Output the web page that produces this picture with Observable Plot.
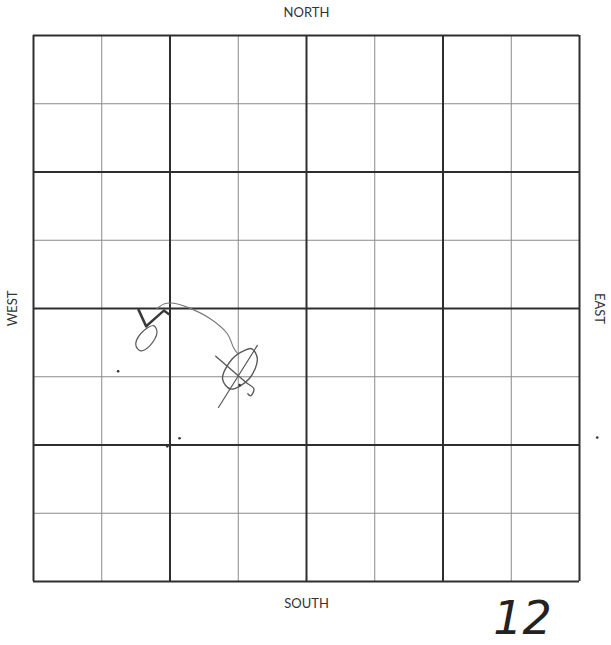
<!DOCTYPE html>
<html><head><meta charset="utf-8">
<script src="https://cdn.jsdelivr.net/npm/d3@7"></script>
<script src="https://cdn.jsdelivr.net/npm/@observablehq/plot@0.6"></script>
<style>body{margin:0;background:#fff}</style>
</head><body><div id="chart"></div>
<script>
// Grid: 8 x 8 cells, heavy lines every 2 cells
const gridLines = [0,1,2,3,4,5,6,7,8];
const heavyLines = [0,2,4,6,8];
const directionLabels = ["NORTH","SOUTH","WEST","EAST"];
const pageNumber = ["12"];

// Hand-drawn marks, in grid units (x east from west edge, y south from north edge)
const arcX = [1.81,1.92,2.03,2.25,2.59,2.84,2.93,2.99];
const arcY = [4.00,3.93,3.92,3.98,4.15,4.37,4.57,4.66];
const vLeftX = [1.54,1.65];
const vLeftY = [4.02,4.26];
const vRightX = [1.98,1.91,1.65];
const vRightY = [4.08,4.03,4.26];
const smallEllX = [1.76,1.81,1.71,1.57,1.50,1.57];
const smallEllY = [4.25,4.35,4.54,4.62,4.54,4.37];
const bigEllX = [3.08,3.20,3.28,3.16,2.89,2.77,2.91];
const bigEllY = [4.62,4.59,4.74,5.03,5.18,5.03,4.74];
const crossAX = [2.67,3.11,3.23,3.18,3.14];
const crossAY = [4.70,5.08,5.18,5.28,5.25];
const crossBX = [3.28,2.71];
const crossBY = [4.54,5.45];
const dotX = [3.02,1.24,2.14,1.96,8.26];
const dotY = [5.12,4.92,5.90,6.02,5.89];

const pts = (xs, ys) => xs.map((x,i) => ({x, y: ys[i]}));
const ink = "#5a5a5a";
const lab = {fontSize: 13, fontFamily: "Lato", fill: "#333", lineAnchor: "middle", textAnchor: "middle", text: d => d};

const plot = Plot.plot({
  width: 611, height: 645,
  marginLeft: 33, marginRight: 32, marginTop: 35, marginBottom: 64,
  x: {domain: [0,8], axis: null},
  y: {domain: [0,8], reverse: true, axis: null},
  style: {background: "#fff"},
  marks: [
    Plot.ruleX(gridLines, {x: d => d, stroke: "#8a8a8a", strokeWidth: 1}),
    Plot.ruleY(gridLines, {y: d => d, stroke: "#8a8a8a", strokeWidth: 1}),
    Plot.ruleX(heavyLines, {x: d => d, stroke: "#2e2e2e", strokeWidth: 2}),
    Plot.ruleY(heavyLines, {y: d => d, stroke: "#2e2e2e", strokeWidth: 2}),
    Plot.line(pts(arcX, arcY), {x: "x", y: "y", curve: "catmull-rom", stroke: "#777", strokeWidth: 1.1}),
    Plot.line(pts(vLeftX, vLeftY), {x: "x", y: "y", stroke: "#3a3a3a", strokeWidth: 2.6}),
    Plot.line(pts(vRightX, vRightY), {x: "x", y: "y", stroke: "#3a3a3a", strokeWidth: 2.4}),
    Plot.line(pts(smallEllX, smallEllY), {x: "x", y: "y", curve: "catmull-rom-closed", stroke: ink, strokeWidth: 1.2}),
    Plot.line(pts(bigEllX, bigEllY), {x: "x", y: "y", curve: "catmull-rom-closed", stroke: ink, strokeWidth: 1.4}),
    Plot.line(pts(crossAX, crossAY), {x: "x", y: "y", curve: "catmull-rom", stroke: ink, strokeWidth: 1.4}),
    Plot.line(pts(crossBX, crossBY), {x: "x", y: "y", stroke: ink, strokeWidth: 1.2}),
    Plot.dot(pts(dotX, dotY), {x: "x", y: "y", r: 1.3, fill: "#333", stroke: null}),
    Plot.text([directionLabels[0]], {...lab, frameAnchor: "top", dy: -23}),
    Plot.text([directionLabels[1]], {...lab, frameAnchor: "bottom", dy: 22}),
    Plot.text([directionLabels[2]], {...lab, frameAnchor: "left", dx: -21, rotate: -90}),
    Plot.text([directionLabels[3]], {...lab, frameAnchor: "right", dx: 20, rotate: 90}),
    Plot.text(pageNumber, {frameAnchor: "bottom-right", dx: -57, dy: 38, textAnchor: "middle", lineAnchor: "middle", text: d => d, fontSize: 46, fontStyle: "italic", fontFamily: "DejaVu Sans", fontWeight: 300, letterSpacing: 10, fill: "#222"})
  ]
});
document.getElementById("chart").appendChild(plot);
</script>
</body></html>
